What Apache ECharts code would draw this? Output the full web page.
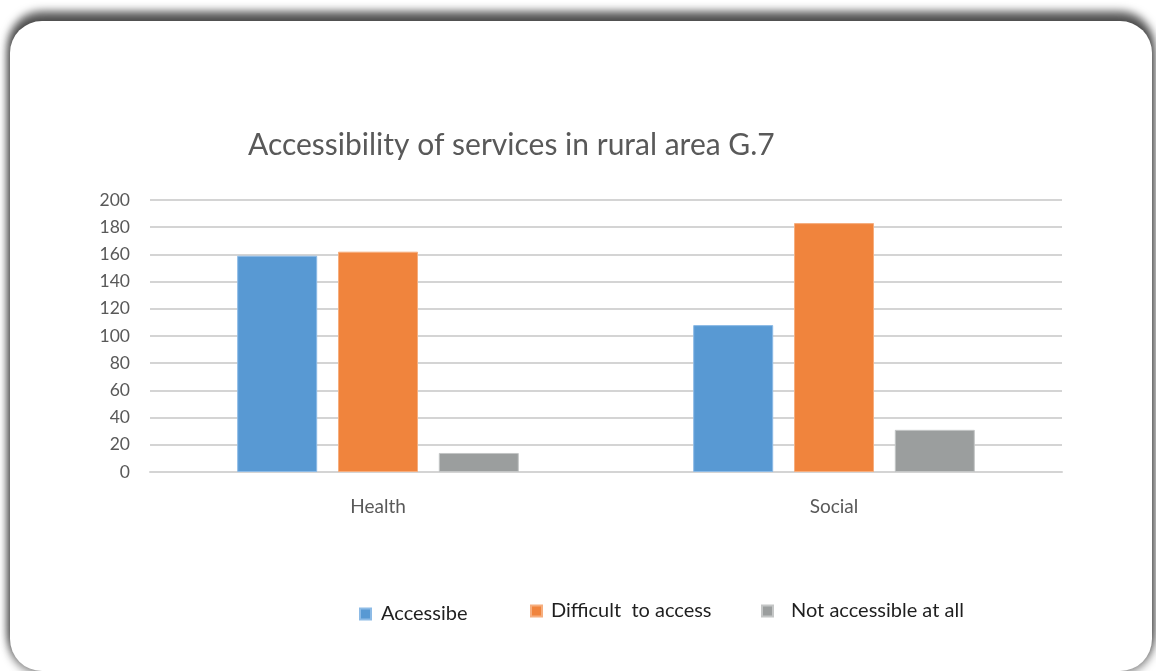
<!DOCTYPE html>
<html>
<head>
<meta charset="utf-8">
<title>Accessibility of services in rural area G.7</title>
<script src="https://cdn.jsdelivr.net/npm/echarts@6/dist/echarts.min.js"></script>
<style>
  html, body { margin: 0; padding: 0; background: #ffffff; overflow: hidden; }
  #page { position: relative; width: 1156px; height: 671px; overflow: hidden; }
  /* rounded white card with a soft grey frame shadow */
  #card {
    position: absolute; left: 10px; top: 21px; width: 1142px; height: 650px;
    border-radius: 32px; background: #ffffff;
    box-shadow: 0 -8px 8px 2px rgba(0,0,0,0.62), 0 2px 8px 2px rgba(0,0,0,0.4);
  }
  #chart { position: absolute; left: 0; top: 0; width: 1156px; height: 671px; }
</style>
</head>
<body>
<div id="page">
  <div id="card"></div>
  <div id="chart"></div>
</div>
<script>
// Survey counts per service type
const categories = ['Health', 'Social'];
const seriesNames = ['Accessibe', 'Difficult  to access', 'Not accessible at all'];
const accessible = [159, 108];
const difficult = [162, 183];
const notAccessible = [14, 31];
const yTicks = { min: 0, max: 200, interval: 20 };

const colors = ['#5899D3', '#F0843D', '#9B9E9E'];
const borders = ['#8DBBE6', '#F6AE7E', '#C4C6C6'];
const values = [accessible, difficult, notAccessible];
const fontFamily = 'Lato, "Open Sans", sans-serif';

const chart = echarts.init(document.getElementById('chart'), null, { renderer: 'canvas' });

// one legend block per series, each placed on its own
function legendFor(i, left, top, gap) {
  return {
    data: [seriesNames[i]],
    left: left, top: top, padding: 0,
    icon: 'rect', itemWidth: 11, itemHeight: 11,
    selectedMode: false,
    textStyle: { fontFamily: fontFamily, fontSize: 20, color: '#1f1f1f', padding: [0, 0, 0, gap] }
  };
}

chart.setOption({
  animation: false,
  backgroundColor: 'transparent',
  color: colors,
  title: {
    text: 'Accessibility of services in rural area G.7',
    left: 243, top: 125,
    textStyle: { fontFamily: fontFamily, fontSize: 30, fontWeight: 'normal', color: '#595959' }
  },
  legend: [
    legendFor(0, 359, 604, 5),
    legendFor(1, 530, 601, 4),
    legendFor(2, 761, 601, 13)
  ],
  grid: { left: 150, right: 94, top: 200, bottom: 199, containLabel: false },
  xAxis: {
    type: 'category',
    data: categories,
    axisTick: { show: false },
    axisLine: { show: true, lineStyle: { color: '#D4D4D4', width: 2 } },
    axisLabel: { margin: 25, fontFamily: fontFamily, fontSize: 19, color: '#595959' }
  },
  yAxis: {
    type: 'value',
    min: yTicks.min, max: yTicks.max, interval: yTicks.interval,
    axisLine: { show: false },
    axisTick: { show: false },
    axisLabel: { margin: 20, fontFamily: fontFamily, fontSize: 17.5, color: '#595959' },
    splitLine: { lineStyle: { color: '#D4D4D4', width: 2 } }
  },
  series: seriesNames.map((name, i) => ({
    name: name,
    type: 'bar',
    data: values[i],
    barWidth: 80,
    barGap: '26%',
    itemStyle: { color: colors[i], borderColor: borders[i], borderWidth: 1 }
  }))
});
</script>
</body>
</html>
